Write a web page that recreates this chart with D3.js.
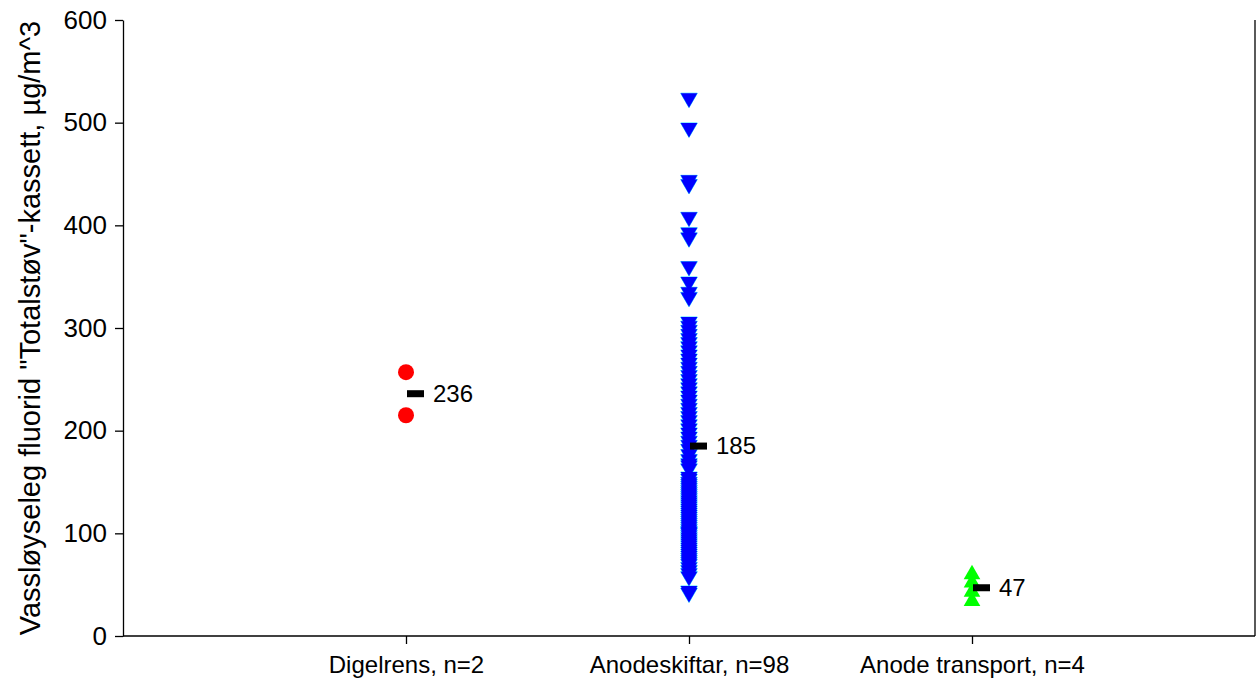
<!DOCTYPE html>
<html>
<head>
<meta charset="utf-8">
<script src="https://cdn.jsdelivr.net/npm/d3@7"></script>
<style>
  body { margin: 0; background: #fff; }
  svg text { font-family: "Liberation Sans", Arial, sans-serif; fill: #000; }
</style>
</head>
<body>
<svg id="chart" width="1257" height="684"></svg>
<script>
// data
const categories = ['Digelrens, n=2', 'Anodeskiftar, n=98', 'Anode transport, n=4'];
const digelrens = [257, 215];
const anodeskiftar = [
  524, 495, 444, 440, 408, 393, 388, 360, 345, 335, 330,
  306, 302, 298, 294, 290, 286, 282, 278, 274, 270, 266, 262, 258, 254, 250,
  246, 242, 238, 234, 230, 226, 222, 218, 214, 210, 206, 202, 198, 194, 190,
  186, 182, 177, 172,
  168, 166, 163, 155, 153,
  150, 148, 146, 144, 142, 140, 138, 136, 134, 132, 130, 128, 126, 124, 122,
  120, 118, 116, 114, 112, 110, 108, 106, 104, 102, 101, 100, 98, 96, 94, 92,
  90, 88, 86, 84, 82, 80, 78, 76, 74, 72, 70, 67, 64, 61, 58,
  44, 42
];
const anodeTransport = [60, 52, 43, 34];
const meanLabels = [236, 185, 47];
const yTicks = [0, 100, 200, 300, 400, 500, 600];

const svg = d3.select('#chart');
const mLeft = 123, mRight = 1255, mTop = 20, mBottom = 636;

const x = d3.scalePoint().domain(categories).range([mLeft, mRight]).padding(1);
const y = d3.scaleLinear().domain([0, 600]).range([mBottom, mTop]);

// axes
const yAxis = svg.append('g')
  .attr('transform', `translate(${mLeft},0)`)
  .call(d3.axisLeft(y).tickValues(yTicks).tickSize(8).tickPadding(8).tickSizeOuter(0));
const xAxis = svg.append('g')
  .attr('transform', `translate(0,${mBottom})`)
  .call(d3.axisBottom(x).tickSize(8).tickPadding(12).tickSizeOuter(0));
[yAxis, xAxis].forEach(g => {
  g.select('.domain').attr('stroke', '#000').attr('stroke-width', 1.3);
  g.selectAll('.tick line').attr('stroke', '#000').attr('stroke-width', 1.3);
  g.selectAll('text').style('font-family', '"Liberation Sans", Arial, sans-serif');
});
xAxis.select('.domain').attr('d', `M${mLeft},0H${mRight}`);
yAxis.selectAll('text').attr('font-size', 26);
xAxis.selectAll('text').attr('font-size', 24);

// right frame line
svg.append('line')
  .attr('x1', mRight).attr('x2', mRight).attr('y1', mTop).attr('y2', mBottom)
  .attr('stroke', '#000').attr('stroke-width', 1.3);

svg.append('text')
  .attr('transform', `translate(30,${(mTop + mBottom) / 2}) rotate(-90)`)
  .attr('text-anchor', 'middle')
  .attr('dy', '0.35em')
  .attr('font-size', 29)
  .text('Vassløyseleg fluorid "Totalstøv"-kassett, µg/m^3');

// points
const tri = d3.symbol().type(d3.symbolTriangle).size(120)();

svg.append('g').selectAll('circle')
  .data(digelrens)
  .join('circle')
  .attr('cx', x(categories[0]))
  .attr('cy', d => y(d))
  .attr('r', 8)
  .attr('fill', '#ff0000');

// cyan edge underneath, blue fills on top
const blueTransform = d => `translate(${x(categories[1])},${y(d)}) rotate(180)`;
svg.append('g').selectAll('path')
  .data(anodeskiftar)
  .join('path')
  .attr('d', tri)
  .attr('transform', blueTransform)
  .attr('fill', 'none')
  .attr('stroke', '#33ddff')
  .attr('stroke-width', 1);
svg.append('g').selectAll('path')
  .data(anodeskiftar)
  .join('path')
  .attr('d', tri)
  .attr('transform', blueTransform)
  .attr('fill', '#0000ff');

svg.append('g').selectAll('path')
  .data(anodeTransport)
  .join('path')
  .attr('d', tri)
  .attr('transform', d => `translate(${x(categories[2])},${y(d)})`)
  .attr('fill', '#00ff00');

// mean markers
const means = svg.append('g').selectAll('g')
  .data(meanLabels)
  .join('g')
  .attr('transform', (d, i) => `translate(${x(categories[i])},${y(d)})`);
means.append('rect')
  .attr('x', 1).attr('y', -3.5).attr('width', 17).attr('height', 7)
  .attr('fill', '#000');
means.append('text')
  .attr('x', 27).attr('dy', '0.35em')
  .attr('font-size', 24)
  .text(d => d);
</script>
</body>
</html>
